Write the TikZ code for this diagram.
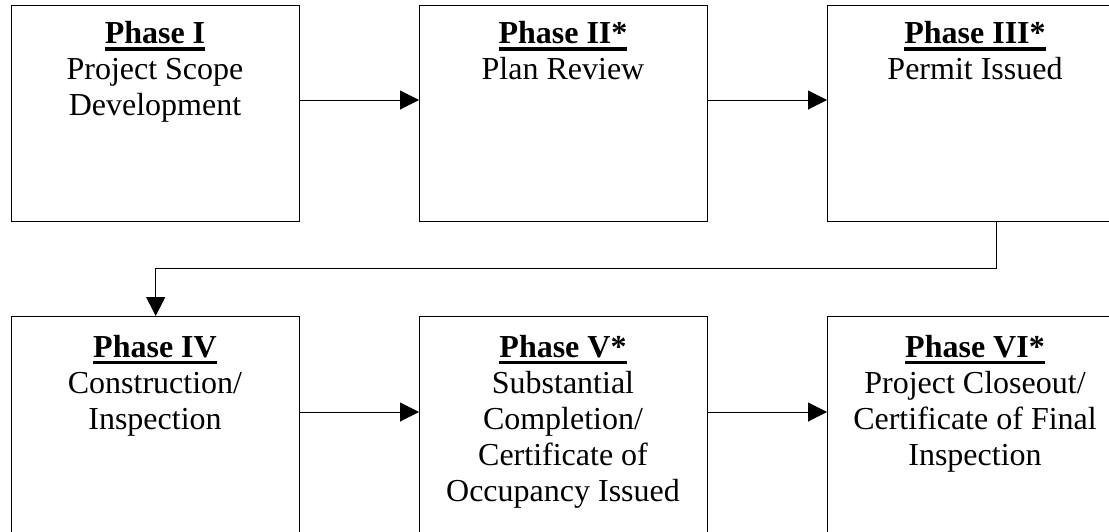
\documentclass[tikz,border=0pt]{standalone}
\usepackage{fontspec}
\setmainfont{Liberation Serif}
\usetikzlibrary{arrows.meta}
\newcommand\phasehead[1]{\setbox0\hbox{\bfseries #1}\rlap{\rule[-7pt]{\wd0}{3.5pt}}\box0}
\begin{document}
\begin{tikzpicture}[x=1pt,y=-1pt,
  box/.style={draw, line width=1.4pt, inner sep=0pt, anchor=north west, minimum height=216pt},
  txt/.style={anchor=north, inner sep=0pt, align=center, font=\fontsize{32}{36}\selectfont},
  link/.style={line width=1pt, -{Triangle[length=19pt,width=19pt]}}]
\clip (0,0) rectangle (1109,531);
\node[box, minimum width=288pt] (b1) at (11,4.5) {};
\node[box, minimum width=288pt] (b2) at (419,4.5) {};
\node[box, minimum width=296pt] (b3) at (827,4.5) {};
\node[box, minimum width=288pt, minimum height=222pt] (b4) at (11,316) {};
\node[box, minimum width=288pt, minimum height=222pt] (b5) at (419,316) {};
\node[box, minimum width=296pt, minimum height=222pt] (b6) at (827,316) {};
\node[txt] (t1) at (155,19.3) {\rule{0pt}{24pt}\phasehead{Phase I}\\Project Scope\\Development};
\node[txt] (t2) at (563,19.3) {\rule{0pt}{24pt}\phasehead{Phase II*}\\Plan Review};
\node[txt] (t3) at (975,19.3) {\rule{0pt}{24pt}\phasehead{Phase III*}\\Permit Issued};
\node[txt] (t4) at (155,333) {\rule{0pt}{24pt}\phasehead{Phase IV}\\Construction/\\Inspection};
\node[txt] (t5) at (563,333) {\rule{0pt}{24pt}\phasehead{Phase V*}\\Substantial\\Completion/\\Certificate of\\Occupancy Issued};
\node[txt] (t6) at (975,333) {\rule{0pt}{24pt}\phasehead{Phase VI*}\\Project Closeout/\\Certificate of Final\\Inspection};
\draw[link] (b1.east |- 0,100) -- (b2.west |- 0,100);
\draw[link] (b2.east |- 0,100) -- (b3.west |- 0,100);
\coordinate (c1) at (996,268);
\draw[link] (b3.south -| c1) -- (c1) -| (b4.north);
\draw[link] (b4.east |- 0,412) -- (b5.west |- 0,412);
\draw[link] (b5.east |- 0,412) -- (b6.west |- 0,412);
\end{tikzpicture}
\end{document}
